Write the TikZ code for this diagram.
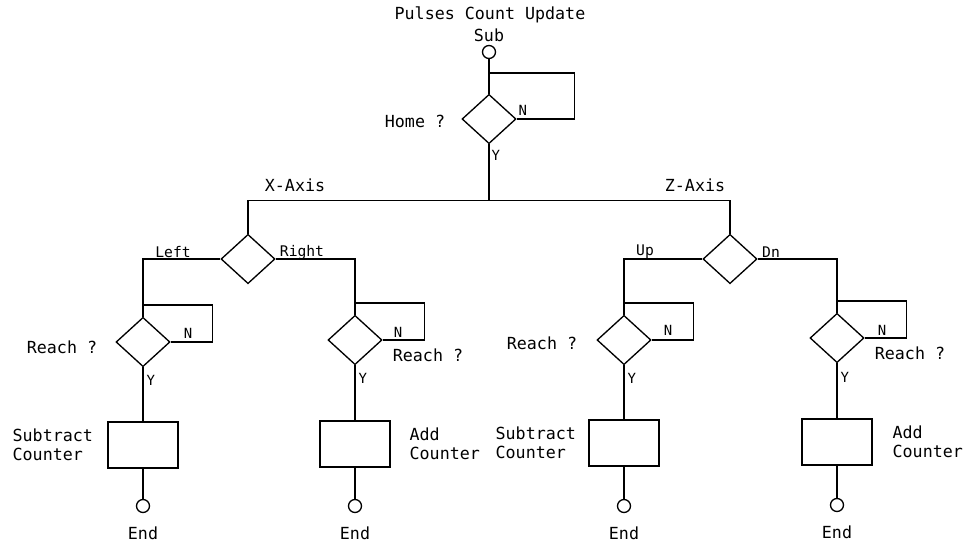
\documentclass[tikz,border=0pt]{standalone}
\usepackage{fontspec}
\setmainfont{DejaVu Sans Mono}
\usetikzlibrary{shapes.geometric}

\tikzset{every picture/.style={line width=1pt}}
\tikzset{
  decision/.style={draw, diamond, inner sep=0pt, minimum width=40.5pt, minimum height=37pt},
  counterbox/.style={draw, rectangle, inner sep=0pt, minimum width=52.5pt, minimum height=34.5pt},
  terminal/.style={draw, circle, inner sep=0pt, minimum size=9.75pt},
  lbl/.style={inner sep=0.75pt, font=\fontsize{12.5}{14}\selectfont},
  brn/.style={inner sep=0.75pt, font=\fontsize{11}{12}\selectfont},
  yn/.style={inner sep=0.75pt, font=\fontsize{10.5}{11}\selectfont},
}

\begin{document}
\begin{tikzpicture}[x=0.75pt,y=0.75pt,yscale=-1,xscale=1]
\useasboundingbox (0,0) rectangle (966,543);

%Terminal: Start
\node [terminal] (start) at (489,52) {};
%Decision: Home
\node [decision] (home) at (489,119) {};
%Decision: Axis
\node [decision] (xdec) at (248,259) {};
\node [decision] (zdec) at (730,259) {};
%Decision: Reach
\node [decision] (lreach) at (143,342) {};
\node [decision] (rreach) at (355,340) {};
\node [decision] (ureach) at (624,340) {};
\node [decision] (dreach) at (837,338) {};
%Process: Counters
\node [counterbox] (lbox) at (143,445) {};
\node [counterbox] (rbox) at (355,444) {};
\node [counterbox] (ubox) at (624,443) {};
\node [counterbox] (dbox) at (837,442) {};
%Terminal: End
\node [terminal] (lend) at (143,506) {};
\node [terminal] (rend) at (355,506) {};
\node [terminal] (uend) at (624,506) {};
\node [terminal] (dend) at (837,505) {};

%Straight Lines: home loop
\draw (start.south) -- (home.north);
\draw (home.east) -- ++(58,0) -- ++(0,-46) -| (home.north);
%Straight Lines: axis split
\draw (home.south) -- ++(0,56) coordinate (hub);
\draw (xdec.north) |- (hub) -| (zdec.north);
%Straight Lines: x branches
\draw (xdec.west) -| (lreach.north);
\draw (xdec.east) -| (rreach.north);
%Straight Lines: z branches
\draw (zdec.west) -| (ureach.north);
\draw (zdec.east) -| (dreach.north);
%Straight Lines: reach loops
\draw (lreach.east) -- ++(42,0) -- ++(0,-37) -| (lreach.north);
\draw (rreach.east) -- ++(42,0) -- ++(0,-37) -| (rreach.north);
\draw (ureach.east) -- ++(42,0) -- ++(0,-37) -| (ureach.north);
\draw (dreach.east) -- ++(42,0) -- ++(0,-37) -| (dreach.north);
%Straight Lines: to counters
\draw (lreach.south) -- (lbox.north);
\draw (rreach.south) -- (rbox.north);
\draw (ureach.south) -- (ubox.north);
\draw (dreach.south) -- (dbox.north);
\draw (lbox.south) -- (lend.north);
\draw (rbox.south) -- (rend.north);
\draw (ubox.south) -- (uend.north);
\draw (dbox.south) -- (dend.north);

% Text Node
\node [lbl] (title) at (490,15) {Pulses Count Update};
\node [lbl] (sub) at (489,35) {Sub};
\node [lbl] (homeq) at (415,121) {Home ?};
\node [yn, anchor=west] (homen) at (517,110) {N};
\node [yn, anchor=west] (homey) at (490,155) {Y};
% Text Node
\node [lbl] (xaxis) at (295,185) {X-Axis};
\node [lbl] (zaxis) at (695,185) {Z-Axis};
\node [brn] (left) at (173,252) {Left};
\node [brn] (right) at (302,252) {Right};
\node [brn] (up) at (645,252) {Up};
\node [brn] (dn) at (771,252) {Dn};
% Text Node
\node [lbl] (lq) at (62,347) {Reach ?};
\node [lbl] (rq) at (428,355) {Reach ?};
\node [lbl] (uq) at (542,343) {Reach ?};
\node [lbl] (dq) at (910,353) {Reach ?};
\node [yn] (ln) at (188,333) {N};
\node [yn] (rn) at (398,332) {N};
\node [yn] (un) at (668,330) {N};
\node [yn] (dn2) at (882,330) {N};
\node [yn, anchor=west] (ly) at (145,380) {Y};
\node [yn, anchor=west] (ry) at (357,378) {Y};
\node [yn, anchor=west] (uy) at (626,378) {Y};
\node [yn, anchor=west] (dy) at (839,377) {Y};
% Text Node
\node [lbl, anchor=west, align=left] (lsub) at (11,445) {Subtract\\Counter};
\node [lbl, anchor=west, align=left] (radd) at (408,444) {Add\\Counter};
\node [lbl, anchor=west, align=left] (usub) at (494,443) {Subtract\\Counter};
\node [lbl, anchor=west, align=left] (dadd) at (891,442) {Add\\Counter};
% Text Node
\node [lbl] (lendt) at (143,533) {End};
\node [lbl] (rendt) at (355,533) {End};
\node [lbl] (uendt) at (624,533) {End};
\node [lbl] (dendt) at (837,532) {End};

\end{tikzpicture}
\end{document}
